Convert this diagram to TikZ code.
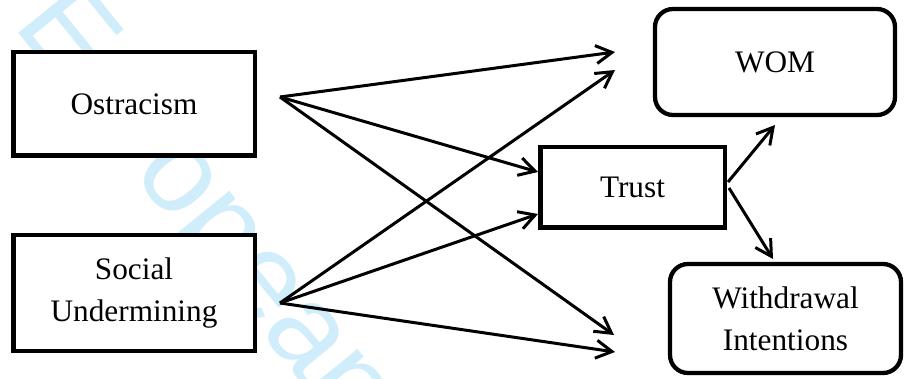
\documentclass[tikz,border=0pt]{standalone}
\usepackage{fontspec}
\setmainfont{Liberation Serif}
\newfontfamily\wmfont{Liberation Sans}
\usetikzlibrary{arrows.meta}
\definecolor{wmblue}{RGB}{208,237,251}
\tikzset{
  lbl/.style={font=\fontsize{31.3}{42}\selectfont, align=center, inner sep=0pt},
  sqbox/.style={lbl, draw, fill=white, line width=4.5pt},
  rbox/.style={lbl, draw, fill=white, line width=4.3pt, rounded corners=18pt},
  conn/.style={line width=3pt, -{Straight Barb[length=16pt,width=18pt]}},
}
\begin{document}
\begin{tikzpicture}[x=1pt,y=-1pt]
\useasboundingbox (0,0) rectangle (904,379);
\fill[white] (0,0) rectangle (904,379);
\begin{scope}
\clip (0,0) rectangle (904,379);
\node[anchor=base west, rotate=-51, inner sep=0pt, text=wmblue,
      font=\wmfont\fontsize{122}{122}\selectfont] (wm) at (12,25) {European};
\end{scope}
% boxes
\node[sqbox, minimum width=241.5pt, minimum height=103.5pt] (ost) at (134,104) {Ostracism};
\node[sqbox, minimum width=241.5pt, minimum height=115.5pt] (soc) at (134,293) {Social\\Undermining};
\node[sqbox, minimum width=184.5pt, minimum height=80.5pt] (tru) at (632.5,187.5) {Trust};
\node[rbox, minimum width=240pt, minimum height=106pt] (wom) at (775,62) {WOM};
\node[rbox, minimum width=231pt, minimum height=109pt] (wdi) at (785.5,318.5) {Withdrawal\\Intentions};
% connector end points
\coordinate (os) at (280,97);
\coordinate (ss) at (280,303);
\coordinate (t1) at (615,52);
\coordinate (t2) at (615,70);
\coordinate (t3) at (614,335);
\coordinate (t4) at (615,352);
\coordinate (tr1) at (538,172);
\coordinate (tr2) at (538,214);
\coordinate (to1) at (728,182);
\coordinate (to2) at (729,188);
\coordinate (w1) at (775,125);
\coordinate (w2) at (773,259);
% connectors
\draw[conn] (os) -- (t1);
\draw[conn] (os) -- (tr1);
\draw[conn] (os) -- (t3);
\draw[conn] (ss) -- (t2);
\draw[conn] (ss) -- (tr2);
\draw[conn] (ss) -- (t4);
\draw[conn] (to1) -- (w1);
\draw[conn] (to2) -- (w2);
\end{tikzpicture}
\end{document}
